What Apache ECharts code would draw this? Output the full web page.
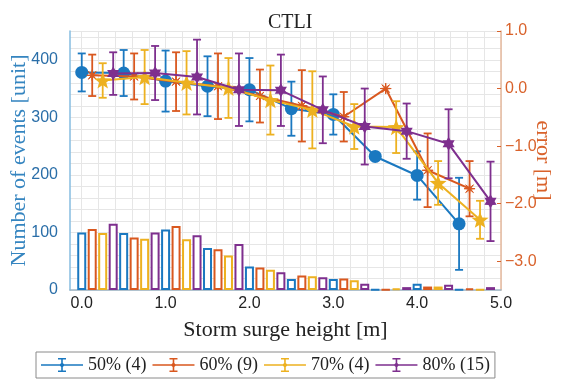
<!DOCTYPE html>
<html>
<head>
<meta charset="utf-8">
<script src="https://cdn.jsdelivr.net/npm/echarts@6/dist/echarts.min.js"></script>
<style>
  html, body { margin: 0; padding: 0; background: #fff; }
  #chart { width: 563px; height: 379px; }
</style>
</head>
<body>
<div id="chart"></div>
<script>
// storm surge height bins (m), each group is shifted a little
const x50 = [0, 0.5, 1.0, 1.5, 2.0, 2.5, 3.0, 3.5, 4.0, 4.5];
const x60 = [0.125, 0.625, 1.125, 1.625, 2.125, 2.625, 3.125, 3.625, 4.125, 4.625];
const x70 = [0.25, 0.75, 1.25, 1.75, 2.25, 2.75, 3.25, 3.75, 4.25, 4.75];
const x80 = [0.375, 0.875, 1.375, 1.875, 2.375, 2.875, 3.375, 3.875, 4.375, 4.875];

// number of events (left axis)
const count50 = [100, 99, 105, 73, 41, 19, 19, 1, 11, 1];
const count60 = [106, 91, 111, 71, 39, 25, 20, 1, 6, 3];
const count70 = [99, 89, 88, 60, 35, 24, 17, 3, 6, 1];
const count80 = [115, 100, 95, 80, 31, 22, 11, 5, 9, 5];

// mean error (right axis)
const err50 = [0.28, 0.27, 0.13, 0.04, -0.02, -0.35, -0.45, -1.18, -1.51, -2.35];
const err60 = [0.23, 0.21, 0.12, 0.04, -0.13, -0.30, -0.49, 0.0, -1.42, -1.74];
const err70 = [0.14, 0.20, 0.10, 0.01, -0.20, -0.37, -0.66, -0.67, -1.64, -2.28];
const err80 = [0.26, 0.27, 0.20, -0.02, -0.03, -0.37, -0.66, -0.74, -0.96, -1.96];

// error bar half length
const sd50 = [0.33, 0.40, 0.53, 0.52, 0.55, 0.47, 0.35, 0, 0.42, 0.80];
const sd60 = [0.36, 0.40, 0.51, 0.57, 0.46, 0.62, 0.43, 0, 0.64, 0.48];
const sd70 = [0.30, 0.47, 0.55, 0.52, 0.60, 0.67, 0.39, 0.45, 0.38, 0.33];
const sd80 = [0.37, 0.47, 0.65, 0.63, 0.62, 0.58, 0.66, 0.48, 0.60, 0.69];

const names = ["50% (4)", "60% (9)", "70% (4)", "80% (15)"];

// ticks
const xLabels = [0, 1, 2, 3, 4, 5];
const xGrid = [0, 0.2, 0.4, 0.6, 0.8, 1.0, 1.2, 1.4, 1.6, 1.8, 2.0, 2.2, 2.4, 2.6, 2.8, 3.0,
  3.2, 3.4, 3.6, 3.8, 4.0, 4.2, 4.4, 4.6, 4.8, 5.0];
const rightTicks = [-3, -2, -1, 0, 1];

const colors = ["#1a78c0", "#d9581f", "#edb120", "#7e2f8e"];
const SERIF = "'Liberation Serif', 'DejaVu Serif', serif";
const SANS = "'Liberation Sans', Arial, sans-serif";

function star(n, inner) {
  const pts = [];
  for (let i = 0; i < 2 * n; i++) {
    const r = i % 2 ? inner * 10 : 10;
    const a = -Math.PI / 2 + (i * Math.PI) / n;
    pts.push((10 + r * Math.cos(a)).toFixed(2) + " " + (10 + r * Math.sin(a)).toFixed(2));
  }
  return "path://M" + pts.join(" L") + " Z";
}

const symbols = [
  { symbol: "circle", size: 13 },
  { symbol: star(8, 0.22), size: 11 },
  { symbol: star(5, 0.42), size: 17 },
  { symbol: star(6, 0.58), size: 14 },
];

const legendIcon =
  "path://M0 6.2 H42 V7.8 H0 Z M20.2 0 H21.8 V14 H20.2 Z M17 0 H25 V1.5 H17 Z " +
  "M17 12.5 H25 V14 H17 Z M21 4.2 L23.8 7 L21 9.8 L18.2 7 Z";

const groups = [
  { x: x50, count: count50, err: err50, sd: sd50 },
  { x: x60, count: count60, err: err60, sd: sd60 },
  { x: x70, count: count70, err: err70, sd: sd70 },
  { x: x80, count: count80, err: err80, sd: sd80 },
];

const series = [];
groups.forEach((g, i) => {
  series.push({
    name: "bar" + i,
    type: "bar",
    yAxisIndex: 0,
    barWidth: 9,
    barGap: "-100%",
    data: g.x.map((x, k) => [x, g.count[k]]),
    itemStyle: { color: "#fff", borderColor: colors[i], borderWidth: 2 },
    z: 1,
  });
});
groups.forEach((g, i) => {
  const c = colors[i];
  series.push({
    name: "eb" + i,
    type: "custom",
    yAxisIndex: 1,
    data: g.x.map((x, k) => [x, g.err[k], g.sd[k]]),
    encode: { x: 0, y: 1 },
    z: 3 + i * 2,
    renderItem: (params, api) => {
      const s = api.value(2);
      if (!s) return null;
      const top = api.coord([api.value(0), api.value(1) + s]);
      const bot = api.coord([api.value(0), api.value(1) - s]);
      const w = 4;
      const st = { stroke: c, lineWidth: 1.8 };
      return {
        type: "group",
        children: [
          { type: "line", shape: { x1: top[0], y1: top[1], x2: bot[0], y2: bot[1] }, style: st },
          { type: "line", shape: { x1: top[0] - w, y1: top[1], x2: top[0] + w, y2: top[1] }, style: st },
          { type: "line", shape: { x1: bot[0] - w, y1: bot[1], x2: bot[0] + w, y2: bot[1] }, style: st },
        ],
      };
    },
  });
  series.push({
    name: names[i],
    type: "line",
    yAxisIndex: 1,
    data: g.x.map((x, k) => [x, g.err[k]]),
    symbol: symbols[i].symbol,
    symbolSize: symbols[i].size,
    symbolKeepAspect: true,
    showAllSymbol: true,
    lineStyle: { color: c, width: 2 },
    itemStyle: { color: c, borderColor: c, borderWidth: i === 1 ? 1 : 0 },
    z: 4 + i * 2,
  });
});

const chart = echarts.init(document.getElementById("chart"));
chart.setOption({
  animation: false,
  backgroundColor: "#fff",
  title: {
    text: "CTLI",
    left: 263,
    top: 8,
    textStyle: { fontFamily: SERIF, fontSize: 20, fontWeight: "normal", color: "#222" },
  },
  legend: {
    data: names.map((n) => ({ name: n, icon: legendIcon })),
    left: 36,
    top: 352,
    itemWidth: 42,
    itemHeight: 14,
    itemGap: 6,
    padding: [4, 5],
    borderColor: "#8a8a8a",
    borderWidth: 1,
    itemStyle: { borderWidth: 0 },
    textStyle: { fontFamily: SERIF, fontSize: 18, color: "#222" },
  },
  grid: { left: 70, right: 62, top: 31, bottom: 89, outerBoundsMode: "none", containLabel: false },
  xAxis: {
    type: "value",
    min: -0.14,
    max: 5.0,
    name: "Storm surge height [m]",
    nameLocation: "middle",
    nameGap: 29,
    nameMoveOverlap: false,
    nameTextStyle: { fontFamily: SERIF, fontSize: 22, color: "#222" },
    axisLine: { onZero: false, lineStyle: { color: "#9fb6c6", width: 1.5 } },
    axisTick: { show: false, customValues: xGrid },
    axisLabel: {
      customValues: xLabels,
      fontFamily: SANS,
      fontSize: 16,
      color: "#222",
      margin: 6,
      formatter: (v) => v.toFixed(1),
    },
    splitLine: { show: true, lineStyle: { color: "#e6e6e6", width: 1 } },
  },
  yAxis: [
    {
      type: "value",
      min: 0,
      max: 450,
      interval: 20,
      name: "Number of events [unit]",
      nameLocation: "middle",
      nameGap: 40,
      nameMoveOverlap: false,
      nameTextStyle: { fontFamily: SERIF, fontSize: 22, color: "#3585c0" },
      axisLine: { show: true, onZero: false, lineStyle: { color: "#86bde0", width: 1.5 } },
      axisTick: { show: false },
      axisLabel: {
        fontFamily: SANS,
        fontSize: 16,
        color: "#2a6ea8",
        margin: 12,
        formatter: (v) => (v % 100 === 0 ? String(v) : ""),
      },
      splitLine: { show: true, lineStyle: { color: "#e6e6e6", width: 1 } },
    },
    {
      type: "value",
      min: -3.5,
      max: 1.0,
      name: "error [m]",
      nameLocation: "middle",
      nameGap: 31,
      nameRotate: -90,
      nameMoveOverlap: false,
      nameTextStyle: { fontFamily: SERIF, fontSize: 22, color: "#d9622b" },
      axisLine: { show: true, onZero: false, lineStyle: { color: "#e6b99c", width: 1.5 } },
      axisTick: { show: true, inside: true, length: 4, customValues: rightTicks, lineStyle: { color: "#d9622b" } },
      axisLabel: {
        customValues: rightTicks,
        fontFamily: SANS,
        fontSize: 16,
        color: "#d9622b",
        margin: 4,
        formatter: (v) => v.toFixed(1).replace("-", "\u2212"),
      },
      splitLine: { show: false },
    },
  ],
  series: series,
});
</script>
</body>
</html>
